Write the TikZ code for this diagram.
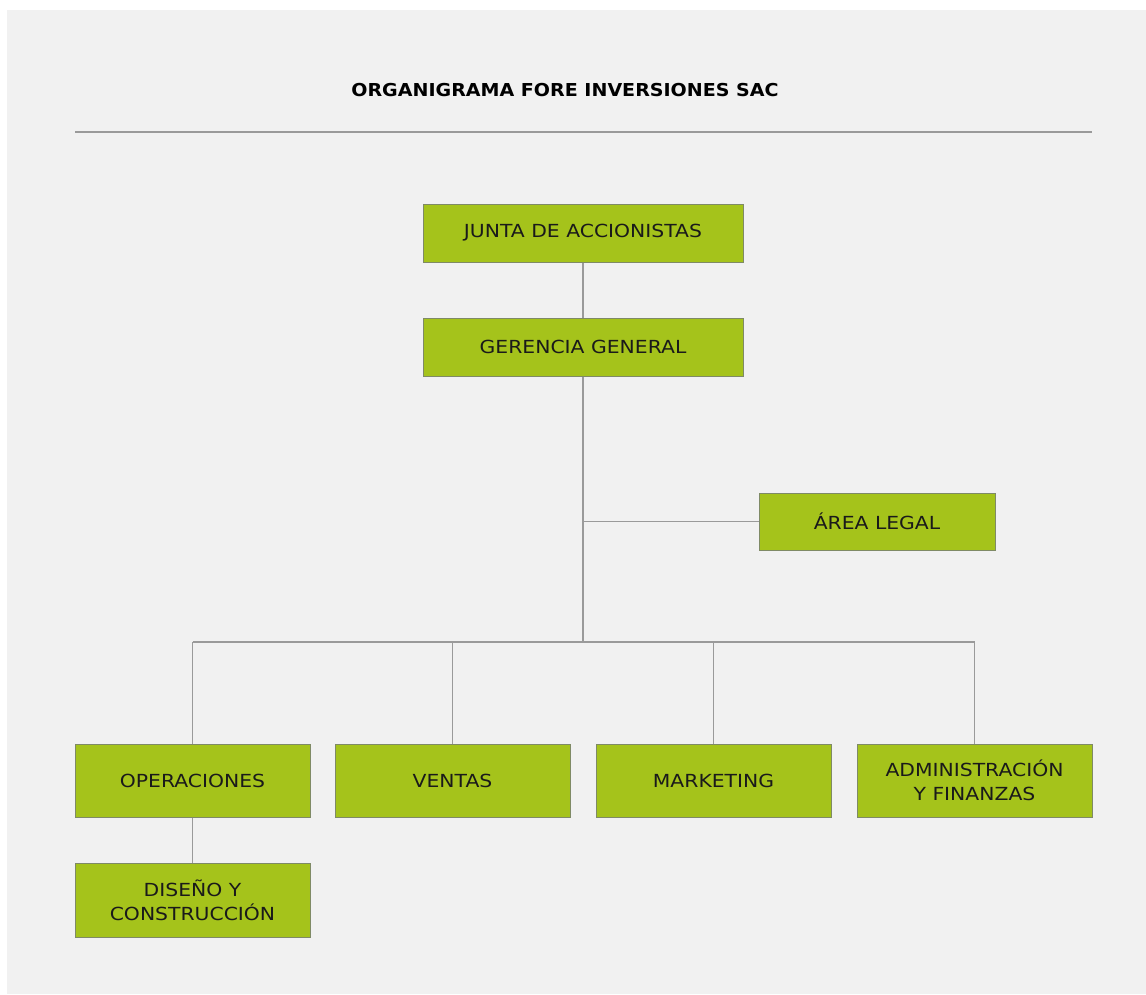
\documentclass[tikz,border=0pt]{standalone}
\usepackage{fontspec}
\setmainfont{DejaVu Sans}
\newfontfamily\boxfont[FakeStretch=1.13]{DejaVu Sans}
\newfontfamily\headfont[FakeStretch=1.07]{DejaVu Sans}
\definecolor{bggray}{HTML}{F1F1F1}
\definecolor{boxgreen}{HTML}{A5C31B}
\definecolor{boxedge}{HTML}{7F8A66}
\definecolor{linegray}{HTML}{9A9A9A}
\definecolor{txt}{HTML}{1A1A1A}
\tikzset{
  orgbox/.style={rectangle, draw=boxedge, line width=1pt, fill=boxgreen, text=txt,
    minimum width=235pt, minimum height=73pt, inner sep=0pt, align=center,
    font=\boxfont\fontsize{18}{24}\selectfont},
  conn/.style={draw=linegray, line width=1.3pt},
  titlefont/.style={font=\headfont\fontsize{17.8}{21}\selectfont\bfseries, text=black}
}
\begin{document}
\begin{tikzpicture}[x=1pt,y=-1pt]
\useasboundingbox (0,0) rectangle (1146,994);
\fill[white] (0,0) rectangle (1146,994);
\fill[bggray] (7,10) rectangle (1146,994);
\node[titlefont] (title) at (565,90) {ORGANIGRAMA FORE INVERSIONES SAC};
\coordinate (ruleL) at (75,132);
\coordinate (ruleR) at (1092,132);
\draw[conn] (ruleL) -- (ruleR);

\node[orgbox, minimum width=320pt, minimum height=58pt] (junta) at (583,233) {JUNTA DE ACCIONISTAS};
\node[orgbox, minimum width=320pt, minimum height=58pt] (gerencia) at (583,347) {GERENCIA GENERAL};
\node[orgbox, minimum width=236pt, minimum height=57pt] (legal) at (877,521.5) {ÁREA LEGAL};
\node[orgbox] (oper) at (192.5,780.5) {OPERACIONES};
\node[orgbox] (ventas) at (452.5,780.5) {VENTAS};
\node[orgbox] (mkt) at (713.5,780.5) {MARKETING};
\node[orgbox] (admin) at (974.5,780.5) {ADMINISTRACIÓN\\Y FINANZAS};
\node[orgbox, minimum height=74pt] (diseno) at (192.5,900) {DISEÑO Y\\CONSTRUCCIÓN};

\coordinate (bus) at (583,642);
\draw[conn] (junta.south) -- (gerencia.north);
\draw[conn] (gerencia.south) -- (bus);
\draw[conn] (legal.west -| gerencia.south) -- (legal.west);
\draw[conn] (oper.north |- bus) -- (admin.north |- bus);
\draw[conn] (oper.north |- bus) -- (oper.north);
\draw[conn] (ventas.north |- bus) -- (ventas.north);
\draw[conn] (mkt.north |- bus) -- (mkt.north);
\draw[conn] (admin.north |- bus) -- (admin.north);
\draw[conn] (oper.south) -- (diseno.north);
\end{tikzpicture}
\end{document}
